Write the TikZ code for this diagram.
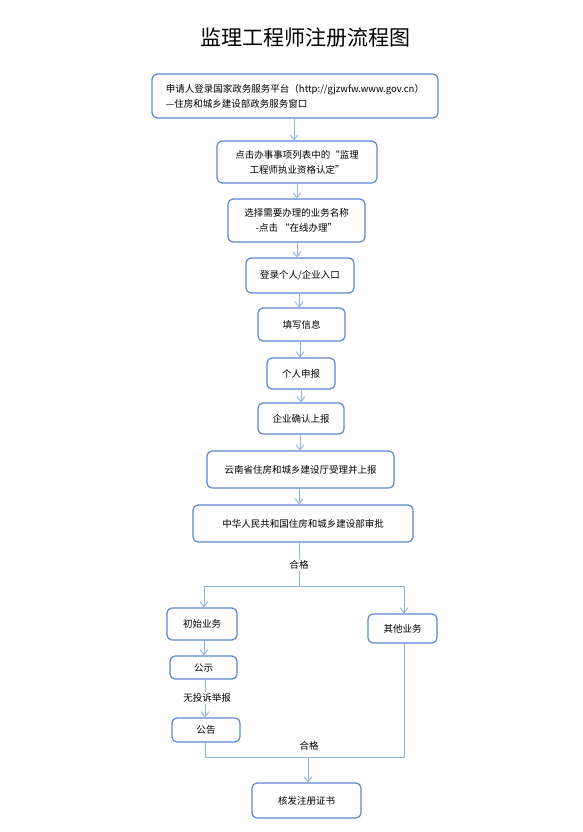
\documentclass[tikz,border=0pt]{standalone}
\usepackage{fontspec}
\setmainfont{Noto Sans CJK SC}
\usetikzlibrary{arrows.meta}
\definecolor{boxblue}{HTML}{5B87D0}
\definecolor{linkblue}{HTML}{8FB4E3}
\tikzset{
  box/.style={draw=boxblue, line width=1.2pt, rounded corners=5pt, fill=white, inner sep=2pt, font=\fontsize{9.5}{15}\selectfont, align=center},
  link/.style={draw=linkblue, line width=0.9pt},
  arr/.style={link, -{Straight Barb[length=5pt,width=8pt]}},
  lbl/.style={fill=white, inner sep=1.5pt, font=\fontsize{9.5}{12}\selectfont}
}
\begin{document}
\begin{tikzpicture}[x=1pt,y=-1pt]
\useasboundingbox (0,0) rectangle (582,832);
\fill[white] (0,0) rectangle (582,832);
\node (title) at (305,38) {\fontsize{21}{24}\selectfont 监理工程师注册流程图};

\node[box, minimum width=286pt, minimum height=44pt, align=left] (b1) at (295,96)
  {申请人登录国家政务服务平台（http://gjzwfw.www.gov.cn）\\—住房和城乡建设部政务服务窗口};
\node[box, minimum width=160pt, minimum height=42pt] (b2) at (297,162)
  {点击办事事项列表中的“监理\\工程师执业资格认定”};
\node[box, minimum width=137pt, minimum height=43pt] (b3) at (296.5,220.5)
  {选择需要办理的业务名称\\-点击 “在线办理”};
\node[box, minimum width=108pt, minimum height=35pt] (b4) at (300,275.5) {登录个人/企业入口};
\node[box, minimum width=87pt, minimum height=33pt] (b5) at (301.5,324.5) {填写信息};
\node[box, minimum width=68pt, minimum height=31pt] (b6) at (301,373.5) {个人申报};
\node[box, minimum width=86pt, minimum height=31pt] (b7) at (301,418.5) {企业确认上报};
\node[box, minimum width=187pt, minimum height=37pt] (b8) at (300.5,469.5) {云南省住房和城乡建设厅受理并上报};
\node[box, minimum width=220pt, minimum height=37pt] (b9) at (303,523.5) {中华人民共和国住房和城乡建设部审批};
\node[box, minimum width=70pt, minimum height=32pt] (init) at (202,624) {初始业务};
\node[box, minimum width=69pt, minimum height=29pt] (other) at (402.5,628.5) {其他业务};
\node[box, minimum width=67pt, minimum height=23pt] (pub) at (203.5,667.5) {公示};
\node[box, minimum width=68pt, minimum height=24pt] (ann) at (206,730) {公告};
\node[box, minimum width=109pt, minimum height=35pt] (cert) at (306.5,800.5) {核发注册证书};

\draw[arr] (b1.south -| 294,0) -- (b2.north -| 294,0);
\draw[arr] (b2.south -| 297,0) -- (b3.north -| 297,0);
\draw[arr] (b3.south -| 297,0) -- (b4.north -| 297,0);
\draw[arr] (b4.south -| 299,0) -- (b5.north -| 299,0);
\draw[arr] (b5.south -| 300,0) -- (b6.north -| 300,0);
\draw[arr] (b6.south -| 301,0) -- (b7.north -| 301,0);
\draw[arr] (b7.south -| 300,0) -- (b8.north -| 300,0);
\draw[arr] (b8.south -| 299,0) -- (b9.north -| 299,0);

\coordinate (j) at (299,586);
\coordinate (jl) at (204,586);
\coordinate (jr) at (404,586);
\draw[link] (b9.south -| j) -- (j);
\draw[link] (jl) -- (jr);
\node[lbl] (ok1) at (299,565) {合格};
\draw[arr] (jl) -- (init.north -| jl);
\draw[arr] (jr) -- (other.north -| jr);
\draw[arr] (init.south -| 204,0) -- (pub.north -| 204,0);
\draw[arr] (pub.south -| 205,0) -- (ann.north -| 205,0);
\node[lbl] (nocomp) at (207,698) {无投诉举报};

\coordinate (k) at (308,757);
\coordinate (kl) at (205,757);
\coordinate (kr) at (404,757);
\draw[link] (ann.south -| kl) -- (kl) -- (kr) -- (other.south -| kr);
\draw[arr] (k) -- (cert.north -| k);
\node[lbl, fill=none] (ok2) at (309,746) {合格};
\end{tikzpicture}
\end{document}
